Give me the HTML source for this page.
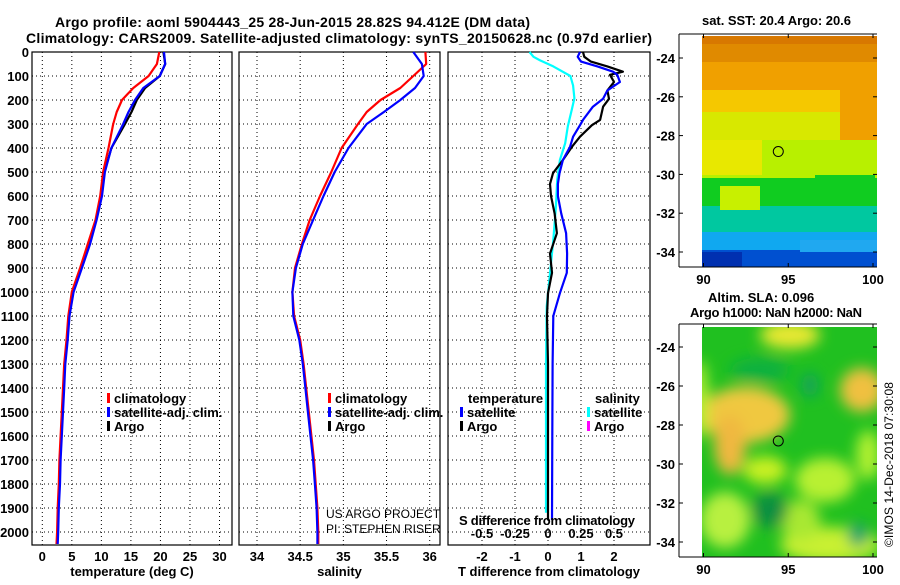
<!DOCTYPE html>
<html><head><meta charset="utf-8"><style>
body{margin:0;background:#fff}
svg text{font-family:"Liberation Sans",sans-serif;font-weight:bold;fill:#000}
</style></head><body>
<svg id="c" width="900" height="580" xmlns="http://www.w3.org/2000/svg">
<defs><filter id="bl" x="-50%" y="-50%" width="200%" height="200%"><feGaussianBlur stdDeviation="7"/></filter>
<clipPath id="clipB"><rect x="702" y="327" width="175" height="230"/></clipPath></defs>
<text x="55" y="27" font-size="14" textLength="475">Argo profile: aoml 5904443_25 28-Jun-2015 28.82S 94.412E (DM data)</text>
<text x="26" y="43" font-size="14" textLength="626">Climatology: CARS2009. Satellite-adjusted climatology: synTS_20150628.nc (0.97d earlier)</text>
<g id="plots"></g>
<g id="maps"></g>
</svg>
<script>
const depths=[0,50,100,150,200,250,300,400,500,600,700,800,900,1000,1100,1200,1300,1400,1500,1600,1700,1800,1900,2000,2050];
const tempClim=[19.8,19.4,18.0,15.4,13.5,12.6,12.0,11.2,10.3,9.8,9.0,7.7,6.4,5.0,4.4,4.1,3.7,3.5,3.3,3.1,2.9,2.8,2.6,2.5,2.4];
const tempSat=[20.6,20.8,19.9,17.1,15.7,14.6,13.7,11.7,10.6,10.1,9.2,8.1,6.7,5.3,4.6,4.3,3.9,3.7,3.5,3.3,3.1,3.0,2.8,2.7,2.6];
const argoDepths=[0,50,100,150,200,250,300,400,500,600,700,800,900,1000,1100,1200,1300,1400,1500,1600,1700,1800,1900,1960];
const tempArgo=[20.5,20.8,19.9,17.4,16.0,15.1,14.0,11.7,10.5,10.0,9.1,7.9,6.6,5.1,4.5,4.2,3.8,3.6,3.4,3.2,3.0,2.9,2.7,2.6];
const salClim=[35.95,35.96,35.81,35.66,35.43,35.27,35.17,34.98,34.86,34.73,34.61,34.52,34.44,34.41,34.43,34.50,34.54,34.57,34.60,34.63,34.66,34.68,34.70,34.71,34.71];
const salSat=[35.81,35.91,35.93,35.83,35.66,35.47,35.27,35.06,34.90,34.77,34.65,34.53,34.45,34.41,34.42,34.49,34.53,34.56,34.59,34.62,34.65,34.67,34.69,34.70,34.70];
const diffDepths=[0,20,40,60,82,95,125,160,195,228,283,305,353,394,450,505,550,600,672,755,840,920,1005,1100,1300,1600,1950];
const tDiffArgo=[1.06,1.1,1.3,1.8,2.27,1.88,2.0,1.8,1.85,1.67,1.58,1.33,0.97,0.73,0.45,0.15,0.06,0.09,0.2,0.27,0.06,0.12,0.0,-0.03,0.0,0.0,0.0];
const tDiffSat=[0.97,0.9,1.0,1.5,1.97,2.1,2.18,1.8,1.67,1.36,1.06,0.97,0.76,0.67,0.45,0.35,0.3,0.3,0.4,0.55,0.58,0.57,0.36,0.16,0.14,0.13,0.12];
const sDiffDepths=[0,20,35,60,100,140,193,240,310,380,450,533,645,783,922,1060,1300,1600,1920];
const sDiffSat=[-0.14,-0.11,-0.06,0.04,0.17,0.19,0.2,0.18,0.15,0.13,0.09,0.07,0.06,0.04,0.015,-0.01,-0.015,-0.015,-0.015];
const depthTicks=[0,100,200,300,400,500,600,700,800,900,1000,1100,1200,1300,1400,1500,1600,1700,1800,1900,2000];
const tempTicks=[0,5,10,15,20,25,30];
const salTicks=[34,34.5,35,35.5,36];
const tdTicks=[-2,-1,0,1,2];
const sdTicks=[-0.5,-0.25,0,0.25,0.5];
const sdTickLabels=["-0.5","-0.25","0","0.25","0.5"];
const latTicks=[-24,-26,-28,-30,-32,-34];
const lonTicks=[90,95,100];

const NS='http://www.w3.org/2000/svg';
function mk(tag,at,parent){const e=document.createElementNS(NS,tag);for(const k in at)e.setAttribute(k,at[k]);parent.appendChild(e);return e;}
const G=document.getElementById('plots');
const top0=52,bot0=545;
const yD=d=>top0+d*0.24;
function lin(d0,d1,r0,r1){return v=>r0+(v-d0)*(r1-r0)/(d1-d0);}
const panels=[{x0:32,x1:232,sx:lin(0,30,42.3,219.5),ticks:tempTicks,lab:'temperature (deg C)',name:'temperature-panel'},
{x0:239,x1:440,sx:lin(34,36,257,429.7),ticks:salTicks,lab:'salinity',name:'salinity-panel'},
{x0:448,x1:650,sx:lin(0,2,548,614),ticks:tdTicks,lab:'T difference from climatology',name:'difference-panel'}];
const sdx=lin(0,0.5,548,614);
panels.forEach((p,pi)=>{
 const g=mk('g',{},G);
 
 
 depthTicks.forEach(d=>{const l=mk('line',{x1:p.x0,x2:p.x1,y1:yD(d),y2:yD(d),stroke:'#000','stroke-width':1,'stroke-dasharray':'1,3'},g);
  
  });
 p.ticks.forEach((t,i)=>{const x=p.sx(t);const l=mk('line',{x1:x,x2:x,y1:top0,y2:bot0,stroke:'#000','stroke-width':1,'stroke-dasharray':'1,3'},g);
  
  
  const tx=mk('text',{x:x,y:561,'font-size':13,'text-anchor':'middle'},g);tx.textContent=String(t);
  
  });
 const fr=mk('rect',{x:p.x0,y:top0,width:p.x1-p.x0,height:bot0-top0,fill:'none',stroke:'#000','stroke-width':1.2},g);
 
 
 const xl=mk('text',{x:(p.x0+p.x1)/2,y:576,'font-size':13,'text-anchor':'middle'},g);xl.textContent=p.lab;
 
 
});
depthTicks.forEach(d=>{const t=mk('text',{x:29,y:yD(d)+5,'font-size':13,'text-anchor':'end'},G);t.textContent=d;
 
 });
function line(ds,vs,sx,col,name,w){const pts=ds.map((d,i)=>sx(vs[i]).toFixed(1)+','+yD(d).toFixed(1)).join(' ');
 const e=mk('polyline',{points:pts,fill:'none',stroke:col,'stroke-width':w||2.2,'stroke-linejoin':'round'},G);
 
 }
const P=panels;
line(argoDepths,tempArgo,P[0].sx,'#000','temp-argo-line');
line(depths,tempClim,P[0].sx,'#f00','temp-climatology-line');
line(depths,tempSat,P[0].sx,'#00f','temp-satellite-line');
line(depths,salClim,P[1].sx,'#f00','salinity-climatology-line');
line(depths,salSat,P[1].sx,'#00f','salinity-satellite-line');
line(sDiffDepths,sDiffSat,sdx,'#0ff','sdiff-satellite-line');
line(diffDepths,tDiffArgo,P[2].sx,'#000','tdiff-argo-line');
line(diffDepths,tDiffSat,P[2].sx,'#00f','tdiff-satellite-line');
sdTicks.forEach((t,i)=>{const tx=mk('text',{x:sdx(t),y:538,'font-size':13,'text-anchor':'middle'},G);tx.textContent=sdTickLabels[i];
 
 });
function txt(x,y,s,fs,name,extra){const t=mk('text',Object.assign({x:x,y:y,'font-size':fs},extra||{}),G);t.textContent=s;
 
 return t;}
txt(459,525,'S difference from climatology',13,'s-diff-axis-title',{textLength:176});
function leg(x,y,col,s,name){const r=mk('rect',{x:x,y:y-10,width:3,height:10,fill:col},G);
 
 
 txt(x+7,y,s,13,name);}
[[107,'climatology-legend'],[328,'salinity-climatology-legend']].forEach(([x,n])=>{
 leg(x,403,'#f00','climatology',n);});
leg(107,417,'#00f','satellite-adj. clim.','temp-satellite-legend');
leg(107,431,'#000','Argo','temp-argo-legend');
leg(328,417,'#00f','satellite-adj. clim.','salinity-satellite-legend');
leg(328,431,'#000','Argo','salinity-argo-legend');
txt(468,403,'temperature',13,'temperature-legend-title');
leg(460,417,'#00f','satellite','tdiff-satellite-legend');
leg(460,431,'#000','Argo','tdiff-argo-legend');
txt(595,403,'salinity',13,'salinity-legend-title');
leg(587,417,'#0ff','satellite','sdiff-satellite-legend');
leg(587,431,'#f0f','Argo','sdiff-argo-legend');
const t1=txt(326,518,'US ARGO PROJECT',12,'credit-project');t1.style.fontWeight='normal';
const t2=txt(326,533,'PI: STEPHEN RISER',12,'credit-pi');t2.style.fontWeight='normal';

// maps
const M=document.getElementById('maps');
const lonX=lin(90,100,703.5,873);
function mapAxes(y0,y1,latY,name){
 const g=mk('g',{},M);
 
 
 mk('line',{x1:679,x2:679,y1:y0,y2:y1,stroke:'#000'},g);
 mk('line',{x1:679,x2:877,y1:y1,y2:y1,stroke:'#000'},g);
 mk('line',{x1:679,x2:877,y1:y0,y2:y0,stroke:'#000'},g);
 latTicks.forEach(l=>{const y=latY(l);mk('line',{x1:679,x2:683,y1:y,y2:y,stroke:'#000'},g);mk('line',{x1:873,x2:877,y1:y,y2:y,stroke:'#000'},g);
  const t=mk('text',{x:675,y:y+5,'font-size':13,'text-anchor':'end'},g);t.textContent=l;
  
  });
 lonTicks.forEach(l=>{const x=lonX(l);mk('line',{x1:x,x2:x,y1:y1,y2:y1-4,stroke:'#000'},g);mk('line',{x1:x,x2:x,y1:y0,y2:y0+4,stroke:'#000'},g);
  const t=mk('text',{x:x,y:y1+17,'font-size':13,'text-anchor':'middle'},g);t.textContent=l;
  
  });
 return g;}
const latA=lin(-24,-34,58,252);
const sstBands=[['#e08a00',36,62],['#f0a000',62,90],['#f5c800',90,112],['#d8e800',112,140],['#b8f000',140,178],['#10cc20',178,206],['#00c8a0',206,232],['#10a8f0',232,250],['#0050d0',250,267]];
const gm=mk('g',{},M);


sstBands.forEach(b=>{mk('rect',{x:702,y:b[1],width:175,height:b[2]-b[1],fill:b[0]},gm);});
[[702,36,175,8,'#d87800'],[840,70,37,70,'#f0a000'],[702,140,60,35,'#e8e800'],[720,186,40,24,'#c8f000'],[815,175,60,8,'#10cc20'],[702,252,40,15,'#0030b0'],[800,240,77,12,'#20a8f0']].forEach(r=>mk('rect',{x:r[0],y:r[1],width:r[2],height:r[3],fill:r[4]},gm));
mapAxes(34,267,latA,'sst-map-axes');
mk('circle',{cx:lonX(94.412),cy:latA(-28.82),r:5,fill:'none',stroke:'#000'},M);
const latB=lin(-24,-34,347,542);
const gb=mk('g',{'clip-path':'url(#clipB)'},M);


mk('rect',{x:702,y:327,width:175,height:230,fill:'#20c020'},gb);
const bf=mk('g',{filter:'url(#bl)'},gb);
[[790,335,30,14,'#e8e830'],[862,390,22,22,'#f0c040'],[745,415,45,28,'#f0c840'],[730,445,16,30,'#f0b840'],[700,400,8,40,'#b8f030'],[765,470,22,14,'#c8f020'],[825,480,30,22,'#b8f030'],[725,520,25,28,'#b8f040'],[830,545,50,18,'#c8f030'],[868,455,12,25,'#b0f030'],[800,520,20,20,'#a8e830'],[810,385,8,12,'#10a060'],[770,510,18,18,'#109040'],[858,535,10,12,'#10a070'],[760,370,30,12,'#10b040']].forEach(e=>mk('ellipse',{cx:e[0],cy:e[1],rx:e[2],ry:e[3],fill:e[4]},bf));
mapAxes(324,557,latB,'sla-map-axes');
mk('circle',{cx:lonX(94.412),cy:latB(-28.82),r:5,fill:'none',stroke:'#000'},M);
txt(702,25,'sat. SST: 20.4 Argo: 20.6',13,'sst-map-title',{textLength:149});
txt(708,302,'Altim. SLA: 0.096',13,'sla-title');
txt(690,317,'Argo h1000: NaN h2000: NaN',13,'argo-height-title',{textLength:172});
const ts=txt(0,0,'©IMOS 14-Dec-2018 07:30:08',12,'timestamp',{transform:'translate(893,547) rotate(-90)',textLength:165});
ts.style.fontWeight='normal';
</script>
</body></html>
